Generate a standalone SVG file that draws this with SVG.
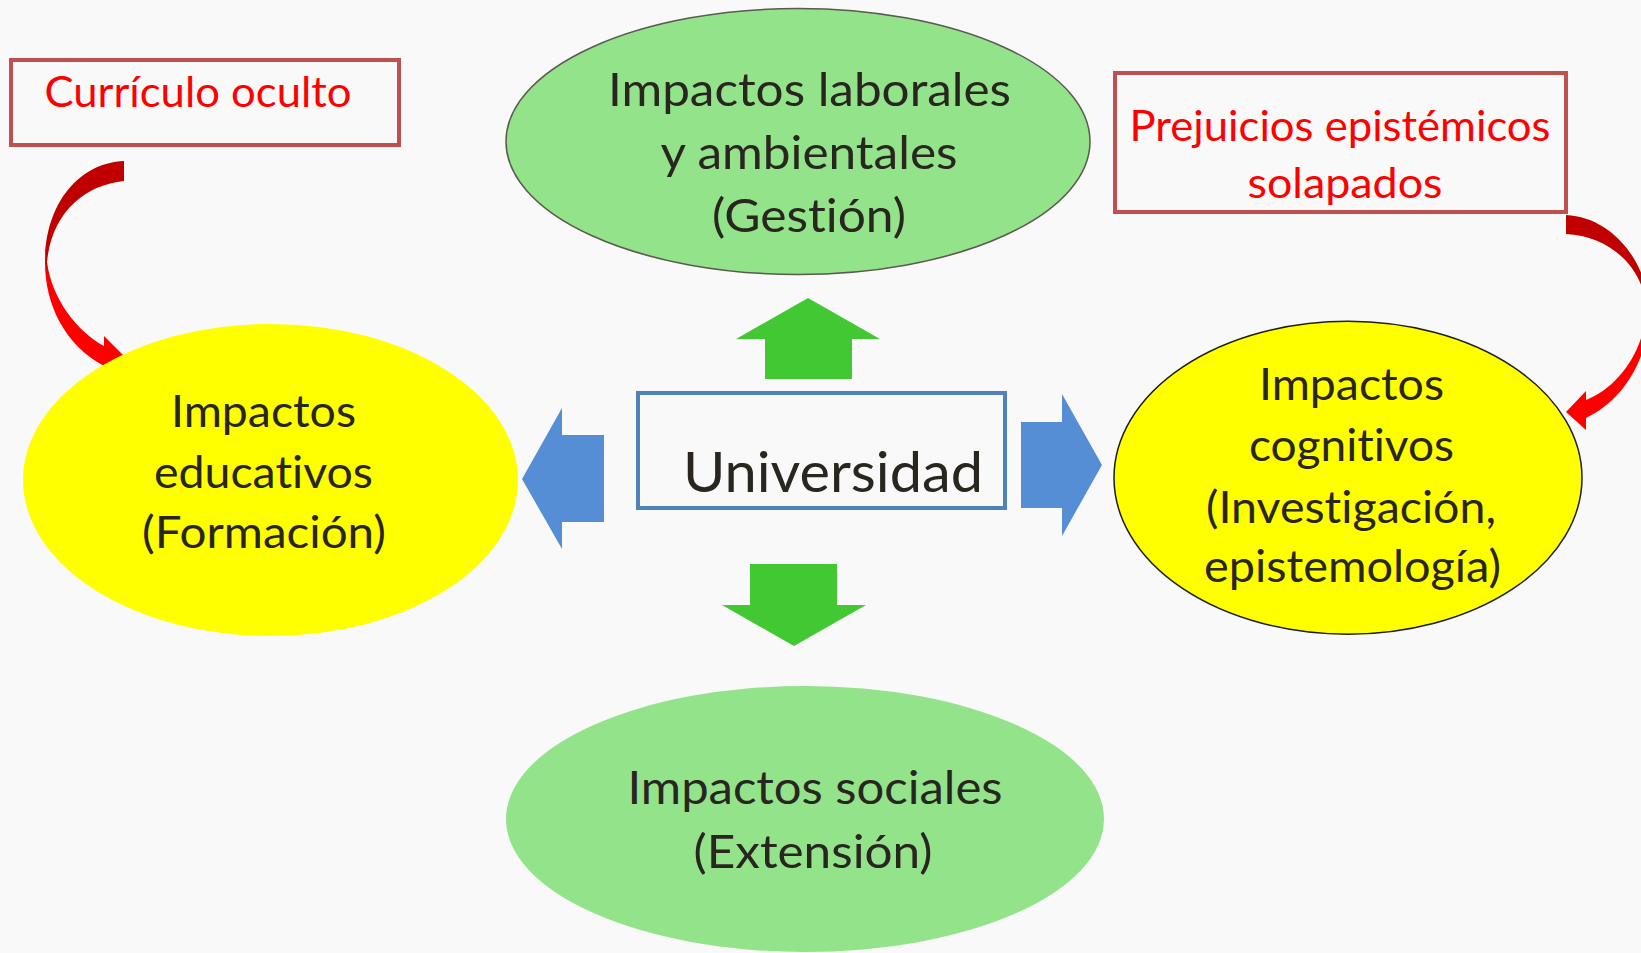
<svg xmlns="http://www.w3.org/2000/svg" width="1641" height="953" viewBox="0 0 1641 953">
<defs>
<style>
.t{font-family:Lato,"Open Sans","Liberation Sans",sans-serif;fill:#29261F;text-anchor:middle;font-variant-ligatures:none;font-feature-settings:"liga" 0,"clig" 0}
.r{font-family:Lato,"Open Sans","Liberation Sans",sans-serif;fill:#FF0000;text-anchor:middle;font-variant-ligatures:none;font-feature-settings:"liga" 0,"clig" 0}
.box{fill:none;stroke:#C0504D;stroke-width:4}
.green{fill:#41C832}
.blue{fill:#558ED5}
</style>
<linearGradient id="gl" gradientUnits="userSpaceOnUse" x1="0" y1="161" x2="0" y2="378">
<stop offset="0" stop-color="#C00000"/><stop offset="0.42" stop-color="#C00000"/><stop offset="0.56" stop-color="#FF0000"/><stop offset="1" stop-color="#FF0000"/>
</linearGradient>
<linearGradient id="gr" gradientUnits="userSpaceOnUse" x1="0" y1="215" x2="0" y2="430">
<stop offset="0" stop-color="#C00000"/><stop offset="0.4" stop-color="#C00000"/><stop offset="0.56" stop-color="#FF0000"/><stop offset="1" stop-color="#FF0000"/>
</linearGradient>
</defs>
<rect x="0" y="0" width="1641" height="953" fill="#F9F9F9"/>

<g id="connectors">
<path d="M124,161 C78,163 45,205 45,262 C45,305 65,345 104,366 L104,375 L124,356 L104,336 L104,346 C78,332 52,300 47,262 C52,212 85,185 124,181 Z" fill="url(#gl)"/>
<polygon class="green" points="808,298 880,339 852,339 852,379 765,379 765,339 736,339"/>
<polygon class="green" points="750,564 837,564 837,605 866,605 794,646 722,605 750,605"/>
<polygon class="blue" points="522,479 562,408 562,435 604,435 604,522 562,522 562,549"/>
<polygon class="blue" points="1021,422 1062,422 1062,394 1102,465 1062,536 1062,508 1021,508"/>
</g>

<g id="curriculo">
<rect class="box" x="11" y="60" width="388" height="85"/>
<text class="r" x="198" y="106.5" font-size="43" textLength="307" lengthAdjust="spacingAndGlyphs">Currículo oculto</text>
</g>

<g id="prejuicios">
<rect class="box" x="1115" y="73" width="451" height="139"/>
<text class="r" x="1340" y="141" font-size="42" textLength="421" lengthAdjust="spacingAndGlyphs">Prejuicios epistémicos</text>
<text class="r" x="1345" y="197.5" font-size="42" textLength="195" lengthAdjust="spacingAndGlyphs">solapados</text>
</g>

<g id="laborales">
<ellipse cx="798" cy="141.5" rx="292" ry="133" fill="#93E38B" stroke="#5A5A4E" stroke-width="1.5"/>
<text class="t" x="809.5" y="106" font-size="47" textLength="403" lengthAdjust="spacingAndGlyphs">Impactos laborales</text>
<text class="t" x="809" y="169" font-size="47" textLength="297" lengthAdjust="spacingAndGlyphs">y ambientales</text>
<text class="t" x="809" y="232" font-size="47" textLength="194" lengthAdjust="spacingAndGlyphs">(Gestión)</text>
</g>

<g id="educativos">
<ellipse cx="270.5" cy="480" rx="247.5" ry="156" fill="#FFFF00"/>
<text class="t" x="263.5" y="427" font-size="45" textLength="185" lengthAdjust="spacingAndGlyphs">Impactos</text>
<text class="t" x="263.5" y="488" font-size="45" textLength="219" lengthAdjust="spacingAndGlyphs">educativos</text>
<text class="t" x="264" y="548" font-size="45" textLength="244" lengthAdjust="spacingAndGlyphs">(Formación)</text>
</g>

<g id="cognitivos">
<ellipse cx="1348" cy="477.8" rx="234" ry="156.5" fill="#FFFF00" stroke="#1E1E1E" stroke-width="1.5"/>
<text class="t" x="1351.5" y="399.5" font-size="45" textLength="185" lengthAdjust="spacingAndGlyphs">Impactos</text>
<text class="t" x="1351.5" y="461" font-size="45" textLength="205" lengthAdjust="spacingAndGlyphs">cognitivos</text>
<text class="t" x="1351" y="522.5" font-size="45" textLength="290" lengthAdjust="spacingAndGlyphs">(Investigación,</text>
<text class="t" x="1352.5" y="581.5" font-size="45" textLength="297" lengthAdjust="spacingAndGlyphs">epistemología)</text>
</g>

<g id="flecha-prejuicios">
<path d="M1566,215 C1612,217 1648,262 1649,310 C1650,355 1625,400 1586,418 L1586,430 L1566,412 L1586,391 L1586,400 C1618,388 1645,350 1646,310 C1645,268 1610,236 1566,234 Z" fill="url(#gr)"/>
</g>

<g id="sociales">
<ellipse cx="805" cy="819" rx="299" ry="133" fill="#93E38B"/>
<text class="t" x="815" y="804" font-size="47" textLength="375" lengthAdjust="spacingAndGlyphs">Impactos sociales</text>
<text class="t" x="813" y="868" font-size="47" textLength="239" lengthAdjust="spacingAndGlyphs">(Extensión)</text>
</g>

<g id="universidad">
<rect x="638" y="393" width="367" height="115" fill="none" stroke="#4F81BD" stroke-width="4"/>
<text class="t" x="833" y="492" font-size="57" textLength="300" lengthAdjust="spacingAndGlyphs">Universidad</text>
</g>
</svg>
